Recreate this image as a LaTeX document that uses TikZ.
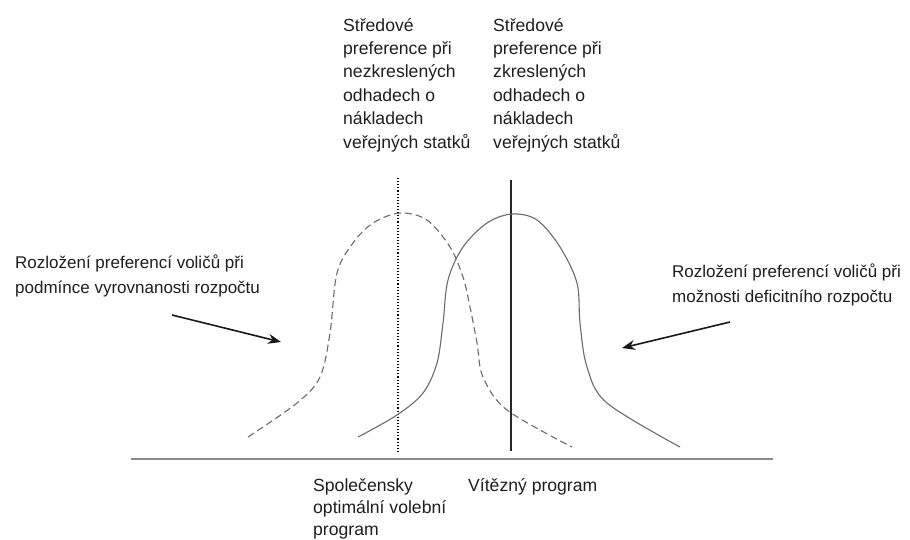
\documentclass[tikz,border=0pt]{standalone}
\usepackage{fontspec}
\setmainfont{Liberation Sans}
\usetikzlibrary{arrows.meta}

\definecolor{curvegray}{HTML}{6A6A6A}
\definecolor{axisgray}{HTML}{8A8A8A}
\definecolor{textgray}{HTML}{1E1E1E}

\tikzset{
  label text/.style={anchor=base west, inner sep=0pt, align=left, text=textgray,
    font=\fontsize{17.6}{23.4}\selectfont},
  side text/.style={label text, font=\fontsize{17}{25}\selectfont},
  curve/.style={curvegray, line width=1.1pt},
  pointer/.style={black!90, line width=1.6pt, -{Stealth[length=13pt, width=10pt]}}
}

\begin{document}
\begin{tikzpicture}[x=1pt, y=-1pt]
\useasboundingbox (0,0) rectangle (910,539);

% axis
\draw[axisgray, line width=2pt] (131,459) -- (773,459);

% vertical lines
\draw[black, line width=1.1pt, dotted] (398,178) -- (398,451);
\draw[black!85, line width=2pt] (511,180) -- (511,451);

% dashed curve (balanced budget)
\draw[curve, dash pattern=on 7pt off 4pt] plot[smooth, tension=0.55] coordinates {
  (248,437) (297,403) (320,377) (330,333) (337,273) (353,243) (373,223)
  (400,213) (427,220) (450,247) (463,277) (470,307) (477,343) (483,377)
  (507,410) (572,447)};

% solid curve (deficit allowed)
\draw[curve] plot[smooth, tension=0.55] coordinates {
  (358,437) (397,415) (423,393) (437,363) (443,323) (448,280) (463,247)
  (487,223) (512,214) (537,220) (560,247) (577,283) (580,323) (587,367)
  (607,403) (680,447)};

% labels above (anchored at the last line)
\node[label text] (midfree) at (343,148) {Středové\\preference při\\nezkreslených\\odhadech o\\nákladech\\veřejných statků};
\node[label text] (midbias) at (493,148) {Středové\\preference při\\zkreslených\\odhadech o\\nákladech\\veřejných statků};

% side labels
\node[side text] (balanced) at (15,293) {Rozložení preferencí voličů při\\podmínce vyrovnanosti rozpočtu};
\node[side text] (deficit) at (672,302) {Rozložení preferencí voličů při\\možnosti deficitního rozpočtu};

% labels below
\node[label text, font=\fontsize{17.6}{22}\selectfont] (optimum) at (313,535) {Společensky\\optimální volební\\program};
\node[label text] (winner) at (468,491) {Vítězný program};

% arrows
\coordinate (balancedfrom) at (172,315);
\coordinate (balancedto) at (281,342);
\coordinate (deficitfrom) at (730,322);
\coordinate (deficitto) at (622,348);
\draw[pointer] (balancedfrom) -- (balancedto);
\draw[pointer] (deficitfrom) -- (deficitto);

\end{tikzpicture}
\end{document}
